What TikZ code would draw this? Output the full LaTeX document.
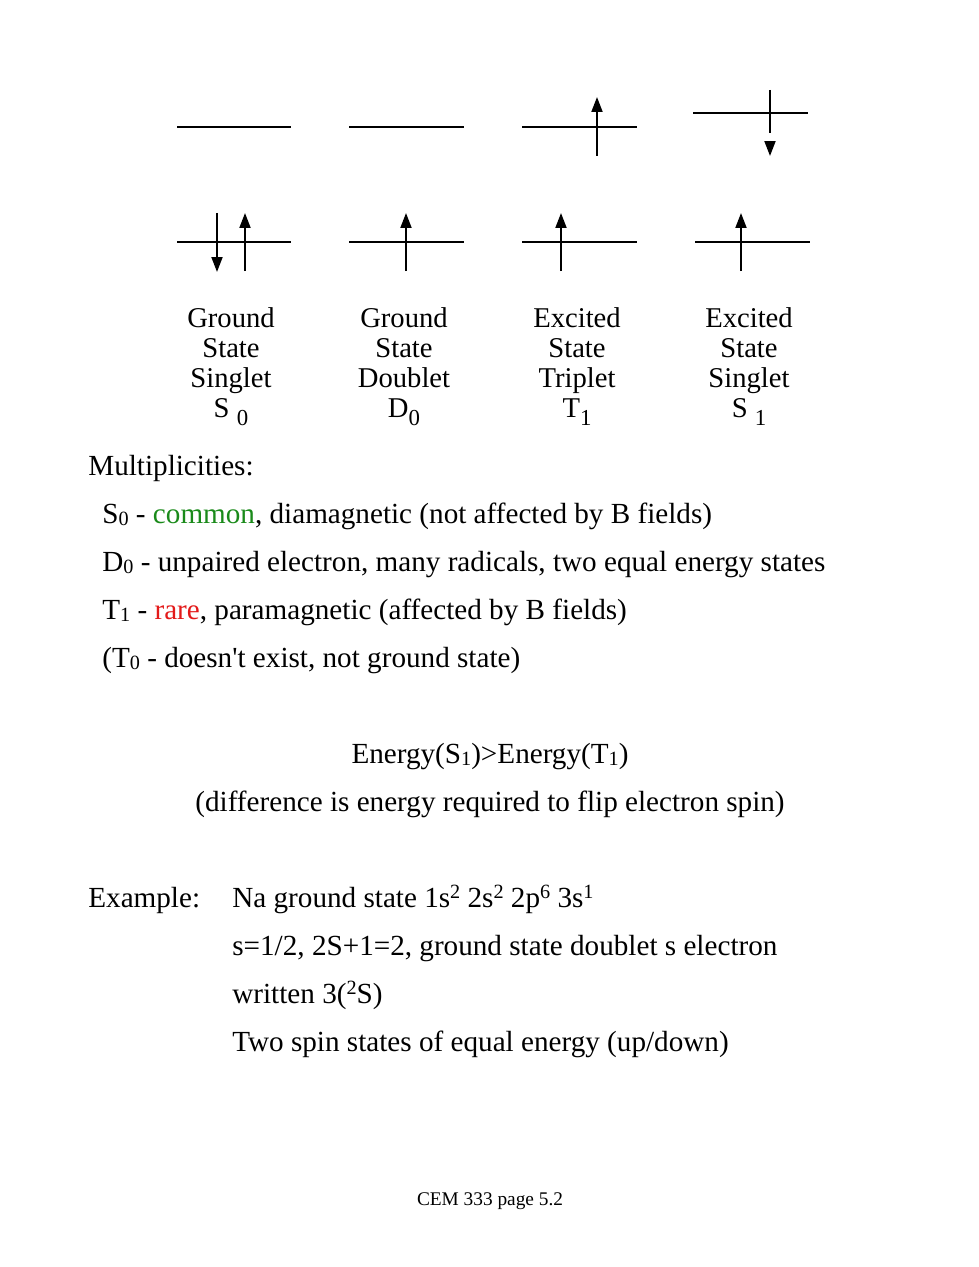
\documentclass[tikz,border=0pt]{standalone}
\usepackage{fontspec}
\setmainfont{Liberation Serif}
\usetikzlibrary{arrows.meta}
\definecolor{commongreen}{HTML}{1A8A1A}
\definecolor{rarered}{HTML}{E31A1A}
\newcommand{\lowsub}[1]{\raisebox{-0.3em}{\fontsize{13}{13}\selectfont #1}}
\newcommand{\linesub}[1]{\raisebox{-0.08em}{\fontsize{11.5}{11.5}\selectfont #1}}
\newcommand{\linesup}[1]{\raisebox{0.3em}{\fontsize{11.5}{11.5}\selectfont #1}}

\begin{document}
\begin{tikzpicture}[x=0.02cm,y=-0.02cm,
    font=\fontsize{16.6}{17}\selectfont,
    level/.style={line width=1.1pt},
    spin/.style={line width=1.1pt,-{Triangle[length=0.3cm,width=0.22cm]}},
    statelabel/.style={align=center,anchor=base,inner sep=0pt,font=\fontsize{16.3}{17}\selectfont},
    txt/.style={anchor=base west,inner sep=0pt},
    centred/.style={anchor=base,inner sep=0pt}
  ]
  \useasboundingbox (0,0) rectangle (979,1267);

  % upper levels
  \draw[level] (177,127) -- (291,127);
  \draw[level] (349,127) -- (464,127);
  \draw[level] (522,127) -- (637,127);
  \draw[level] (693,113) -- (808,113);
  \draw[spin] (597,156) -- (597,97);
  \draw[level] (770,90) -- (770,133);
  \draw[spin] (770,141) -- (770,156);

  % lower levels
  \draw[level] (177,242) -- (291,242);
  \draw[level] (349,242) -- (464,242);
  \draw[level] (522,242) -- (637,242);
  \draw[level] (695,242) -- (810,242);
  \draw[spin] (217,213) -- (217,272);
  \draw[spin] (245,271) -- (245,213);
  \draw[spin] (406,271) -- (406,213);
  \draw[spin] (561,271) -- (561,213);
  \draw[spin] (741,271) -- (741,213);

  \node[statelabel] (s0) at (231,417) {Ground\\State\\Singlet\\S \lowsub{0}};
  \node[statelabel] (d0) at (404,417) {Ground\\State\\Doublet\\D\lowsub{0}};
  \node[statelabel] (t1) at (577,417) {Excited\\State\\Triplet\\T\lowsub{1}};
  \node[statelabel] (s1) at (749,417) {Excited\\State\\Singlet\\S \lowsub{1}};

  \node[txt] (mult) at (88,475) {Multiplicities:};
  \node[txt] (ms0) at (102,523) {S\linesub{0} - \textcolor{commongreen}{common}, diamagnetic (not affected by B fields)};
  \node[txt] (md0) at (102,571) {D\linesub{0} - unpaired electron, many radicals, two equal energy states};
  \node[txt] (mt1) at (102,619) {T\linesub{1} - \textcolor{rarered}{rare}, paramagnetic (affected by B fields)};
  \node[txt] (mt0) at (102,667) {(T\linesub{0} - doesn\textquotesingle t exist, not ground state)};

  \node[centred] (energy) at (490,763) {Energy(S\linesub{1})>Energy(T\linesub{1})};
  \node[centred] (diff) at (490,811) {(difference is energy required to flip electron spin)};

  \node[txt] (ex) at (88,907) {Example:};
  \node[txt] (na) at (232,907) {Na ground state 1s\linesup{2} 2s\linesup{2} 2p\linesup{6} 3s\linesup{1}};
  \node[txt] (spin) at (232,955) {s=1/2, 2S+1=2, ground state doublet s electron};
  \node[txt] (written) at (232,1003) {written 3(\linesup{2}S)};
  \node[txt] (two) at (232,1051) {Two spin states of equal energy (up/down)};

  \node[centred,font=\fontsize{11}{12}\selectfont] (page) at (490,1205) {CEM 333 page 5.2};
\end{tikzpicture}
\end{document}
